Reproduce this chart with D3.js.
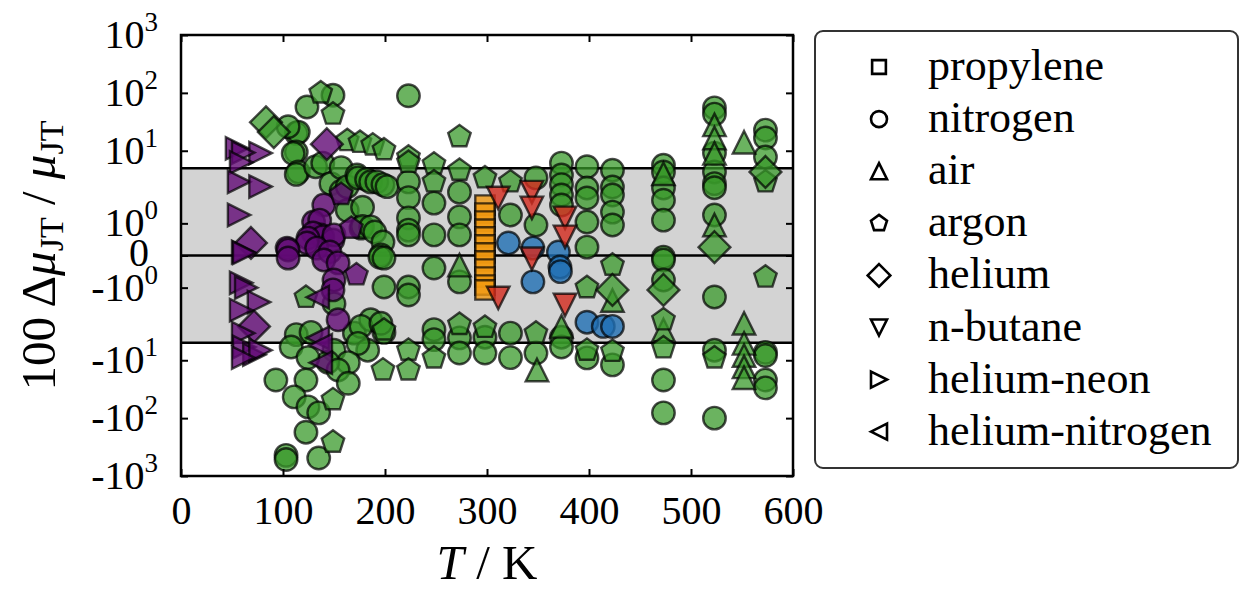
<!DOCTYPE html>
<html><head><meta charset="utf-8">
<script src="https://cdn.jsdelivr.net/npm/d3@7"></script>
<style>
body{margin:0;background:#fff;}
svg text{font-family:"Liberation Serif","Times New Roman","DejaVu Serif",serif;fill:#000;}
</style></head><body>
<svg id="chart" width="1251" height="595" font-family="Liberation Serif, Times New Roman, serif"></svg>
<script>
// ---------------- DATA ----------------
const fluids = ["propylene","nitrogen","air","argon","helium","n-butane","helium-neon","helium-nitrogen"];
const xTicks = [0,100,200,300,400,500,600];
const yTicks = [-1000,-100,-10,-1,0,1,10,100,1000];
const yTickExp = [3,2,1,0,null,0,1,2,3];
const bandLimit = 5;

// [T (K), 100 dmu/mu]
const nitrogenGreen = [
 [149,91],[123.5,57],[113,20],[115,21],[105,26],[113,9.5],[110,9],[115,4.3],[113,3.9],[132,5.3],[139,6.1],[147,2.7],
 [157,2.0],[157,5.1],[163,2.4],[172.5,3.8],[173.5,3.4],[182,3.2],[186,2.9],[192,2.9],[198,2.6],[202,2.4],
 [163,1.4],[178,1.5],[176.5,0.85],[178,0.9],[186,0.89],[190,0.73],[198,0.42],[196,0.02],[195,-0.05],
 [199,-0.08],[199,-0.98],[150,-1.5],[113,-3.6],[127.5,-3.3],[170,-3.4],[186,-2.0],[199,-3.3],[176.5,-2.6],[196,-2.3],
 [183,-6.7],[173.5,-5.1],[150,-6.7],[108,-5.9],[164,-11],[144,-10.8],[154,-14.7],[164,-25],[124.5,-9],[122.5,-22],[93,-22],
 [111,-43],[124.5,-64],[135,-81],[122.5,-175],[103,-440],[103,-520],[135,-490],
 [223,89],[223,2.9],[223,1.8],[223,1.17],[223,0.79],[223,0.64],[223,-0.98],[223,-1.23],
 [248,1.63],[248,0.64],[248,-0.39],[248,-2.96],[248,-4.4],
 [273,1.97],[273,1.2],[273,0.64],[273,-0.82],[273,-4.1],[273,-7.5],
 [298,-4.0],[298,-7.5],
 [323,1.26],[323,-3.4],[323,-9.0],
 [348,3.4],[348,0.95],[348,-7.5],
 [373,6.1],[373,3.8],[373,2.6],[373,1.88],[373,1.57],[373,-4.0],[373,-5.9],
 [398,5.3],[398,2.27],[398,1.79],[398,1.04],[398,0.26],[398,-9.1],
 [423,4.6],[423,2.36],[423,1.88],[423,1.35],[423,0.95],[423,-12],
 [473,5.6],[473,4.3],[473,2.27],[473,1.72],[473,1.1],[473,-0.05],[473,-0.14],[473,-0.76],[473,-22],[473,-81],
 [523,55],[523,43],[523,9.1],[523,4.3],[523,2.7],[523,2.3],[523,1.26],[523,-1.29],[523,-6.7],[523,-100],
 [573,22.7],[573,16.6],[573,7.8],[573,-7.3],[573,-8.3],[573,-22],[573,-30]
];
const airGreen = [
 [273,-0.3],[349,-14.7],[373,-2.6],[523,28],[523,16.6],[523,9],[552,14],[523,0.95],[423,-1.4],[473,-3],[473,4],
 [552,-2.3],[552,-5.1],[552,-8.3],[552,-13],[552,-20]
];
const argonGreen = [
 [137,100],[149,43],[163,15],[175.5,14],[188,12.6],[199,10.4],[223,7.8],[223,6.3],[248,5.9],[248,2.9],[273,4.6],
 [273,17.5],[298,3.4],[323,2.9],[398,-1.0],[223,-6.7],[223,-14.7],[248,-9.1],[273,-2.4],[298,-2.7],[348,-3.4],
 [398,-6.7],[122.5,-1.3],[149,-260],[149,-48],[198,-14.7],[199,-3.0],[423,-0.3],[423,-7],[473,-2],[473,-6.1],
 [523,-9.1],[573,-0.67],[573,2.9]
];
const heliumGreen = [[83.3,31],[91,21],[423,-1.07],[473,-1.07],[523,0.26],[573,4.3]];
const nitrogenPurple = [
 [140,1.57],[130,1.04],[136,1.1],[137,0.64],[129.5,0.7],[139,0.58],[149,0.48],[124.5,0.54],[150,0.64],[123.5,0.39],
 [104,0.23],[133,0.23],[146,0.11],[105,0.17],[105,-0.08],[140,-0.14],[154,-0.23],[150,-0.76],[149,-1.07],[154,-2.0]
];
const argonPurple = [[157,1.9],[167,0.85],[172,-0.6]];
const heliumPurple = [[143,13],[68.6,0.39],[71.6,-2.6]];
const heliumNeonPurple = [
 [55,11],[78,9.1],[61,9.3],[59,6.3],[57,2.9],[78,2.4],[57,1.26],[61,0.11],[62,0.08],[59,-0.85],[64,-1.0],
 [76.5,-1.45],[59,-1.7],[61,-3.4],[62,-5.9],[72,-8],[78,-6.7],[61,-9]
];
const heliumNitrogenPurple = [[134,-1.3],[134,-4.1],[137,-5.5],[137,-11]];
const propyleneOrange = [
 [298,1.57],[298,1.32],[298,1.07],[298,0.82],[298,0.58],[298,0.33],[298,0.08],[298,-0.17],[298,-0.42],
 [298,-0.67],[298,-0.92],[298,-1.07]
];
const nitrogenBlue = [[321,0.39],[345,0.23],[345,-0.82],[370,0.11],[371.5,-0.36],[372,-0.5],[398,-2.2],[414,-2.6],[423,-2.6]];
const butaneRed = [[311,1.79],[344,1.97],[344,1.48],[376.5,1.17],[376.5,0.58],[344,-0.1],[311,-1.32],[376.5,-1.54]];

// ---------------- STYLE ----------------
const shapeOf = {"propylene":"square","nitrogen":"circle","air":"triUp","argon":"pentagon","helium":"diamond",
  "n-butane":"triDown","helium-neon":"triRight","helium-nitrogen":"triLeft"};
const colorOf = {green:"#379829", purple:"#620a76", orange:"#f39a10", blue:"#1f6fb4", red:"#d42a1e"};
const series = [
 {fluid:"nitrogen", color:"green", data:nitrogenGreen},
 {fluid:"air", color:"green", data:airGreen},
 {fluid:"argon", color:"green", data:argonGreen},
 {fluid:"helium", color:"green", data:heliumGreen},
 {fluid:"nitrogen", color:"purple", data:nitrogenPurple},
 {fluid:"argon", color:"purple", data:argonPurple},
 {fluid:"helium", color:"purple", data:heliumPurple},
 {fluid:"helium-neon", color:"purple", data:heliumNeonPurple},
 {fluid:"helium-nitrogen", color:"purple", data:heliumNitrogenPurple},
 {fluid:"propylene", color:"orange", data:propyleneOrange},
 {fluid:"nitrogen", color:"blue", data:nitrogenBlue},
 {fluid:"n-butane", color:"red", data:butaneRed}
];

function shapePath(shape, s){
  const h = s/2;
  switch(shape){
    case "circle": return `M${h},0A${h},${h},0,1,1,${-h},0A${h},${h},0,1,1,${h},0Z`;
    case "square": { const q = s*0.43; return `M${-q},${-q}H${q}V${q}H${-q}Z`; }
    case "triUp": return `M0,${-h}L${h},${h}L${-h},${h}Z`;
    case "triDown": return `M0,${h}L${h},${-h}L${-h},${-h}Z`;
    case "triRight": return `M${h},0L${-h},${h}L${-h},${-h}Z`;
    case "triLeft": return `M${-h},0L${h},${h}L${h},${-h}Z`;
    case "diamond": { const d = s*0.707; return `M0,${-d}L${d},0L0,${d}L${-d},0Z`; }
    case "pentagon": { const r = h*1.05; let p = "";
      for(let k=0;k<5;k++){ const a = (-90+72*k)*Math.PI/180; p += (k?"L":"M")+(r*Math.cos(a)).toFixed(2)+","+(r*Math.sin(a)).toFixed(2); }
      return p+"Z"; }
  }
}

// ---------------- SCALES ----------------
const L = 181, R = 793, T = 35, B = 476;
const svg = d3.select("#chart");
const x = d3.scaleLinear().domain([0,600]).range([L,R]);
const linthresh = 2, linscaleAdj = 1/(1-1/10);
function symlog(v){ const a = Math.abs(v); return a <= linthresh ? v/linthresh*linscaleAdj : Math.sign(v)*(linscaleAdj+Math.log10(a/linthresh)); }
const yT = d3.scaleLinear().domain([symlog(-1000), symlog(1000)]).range([B,T]);
const y = v => yT(symlog(v));

svg.append("defs").append("clipPath").attr("id","clip").append("rect")
  .attr("x",L).attr("y",T).attr("width",R-L).attr("height",B-T);

// band + lines
svg.append("rect").attr("x",L).attr("width",R-L).attr("y",y(bandLimit)).attr("height",y(-bandLimit)-y(bandLimit)).attr("fill","#d3d3d3");
[bandLimit,0,-bandLimit].forEach(v=>{
  svg.append("line").attr("x1",L).attr("x2",R).attr("y1",y(v)).attr("y2",y(v)).attr("stroke","#000").attr("stroke-width",2.5);
});

// markers
const ms = 22.5;
const gm = svg.append("g").attr("clip-path","url(#clip)");
series.forEach(s=>{
  gm.append("g").selectAll("path").data(s.data).join("path")
    .attr("d", shapePath(shapeOf[s.fluid], ms))
    .attr("transform", d=>`translate(${x(d[0])},${y(d[1])})`)
    .attr("fill", colorOf[s.color]).attr("fill-opacity", s.color==="green"?0.74:0.8)
    .attr("stroke","#000").attr("stroke-opacity",0.7).attr("stroke-width",2.4);
});

// axes
function styleAxis(g){ g.attr("font-family",null); g.select(".domain").remove(); g.selectAll(".tick line").attr("stroke","#000").attr("stroke-width",2); }
svg.append("g").attr("transform",`translate(0,${B})`)
  .call(d3.axisBottom(x).tickValues(xTicks).tickSize(-7).tickPadding(20).tickFormat(d3.format("d")))
  .call(styleAxis).call(g=>g.selectAll("text").attr("font-size",40));
svg.append("g").attr("transform",`translate(0,${T})`)
  .call(d3.axisTop(x).tickValues(xTicks).tickSize(-7).tickFormat("")).call(styleAxis);
svg.append("g").attr("transform",`translate(${L},0)`)
  .call(d3.axisLeft(yT).tickValues(yTicks.map(symlog)).tickSize(-7).tickFormat("")).call(styleAxis);
svg.append("g").attr("transform",`translate(${R},0)`)
  .call(d3.axisRight(yT).tickValues(yTicks.map(symlog)).tickSize(-7).tickFormat("")).call(styleAxis);

// y tick labels
yTicks.forEach((v,i)=>{
  const t = svg.append("text").attr("y", y(v)+13).attr("font-size",40).attr("text-anchor","end");
  if (v === 0) { t.attr("x",149).attr("y", y(v)+10).text("0"); }
  else {
    t.attr("x",158);
    t.append("tspan").text((v<0?"-":"")+"10");
    t.append("tspan").attr("font-size",27).attr("dy",-17).text(yTickExp[i]);
  }
});

// frame
svg.append("rect").attr("x",L).attr("y",T).attr("width",R-L).attr("height",B-T)
  .attr("fill","none").attr("stroke","#000").attr("stroke-width",2.5);

// axis labels
const xl = svg.append("text").attr("x",(L+R)/2).attr("y",579).attr("text-anchor","middle").attr("font-size",49);
xl.append("tspan").attr("font-style","italic").text("T");
xl.append("tspan").text(" / K");

const yl = svg.append("text").attr("transform",`translate(55,${(T+B)/2}) rotate(-90)`).attr("text-anchor","middle").attr("font-size",49);
yl.append("tspan").text("100 Δ");
yl.append("tspan").attr("font-style","italic").text("μ");
yl.append("tspan").attr("font-size",34).attr("dy",8).text("JT");
yl.append("tspan").attr("dy",-8).text(" / ");
yl.append("tspan").attr("font-style","italic").text("μ");
yl.append("tspan").attr("font-size",34).attr("dy",8).text("JT");

// legend
const lg = svg.append("g");
lg.append("rect").attr("x",815).attr("y",31).attr("width",423).attr("height",437).attr("rx",8)
  .attr("fill","#fff").attr("stroke","#333").attr("stroke-width",2);
fluids.forEach((f,i)=>{
  const cy = 67 + i*52.1;
  lg.append("path").attr("d",shapePath(shapeOf[f],16)).attr("transform",`translate(879,${cy})`)
    .attr("fill","none").attr("stroke","#000").attr("stroke-width",2.6);
  lg.append("text").attr("x",928).attr("y",cy+13).attr("font-size",44).text(f);
});
</script>
</body></html>
